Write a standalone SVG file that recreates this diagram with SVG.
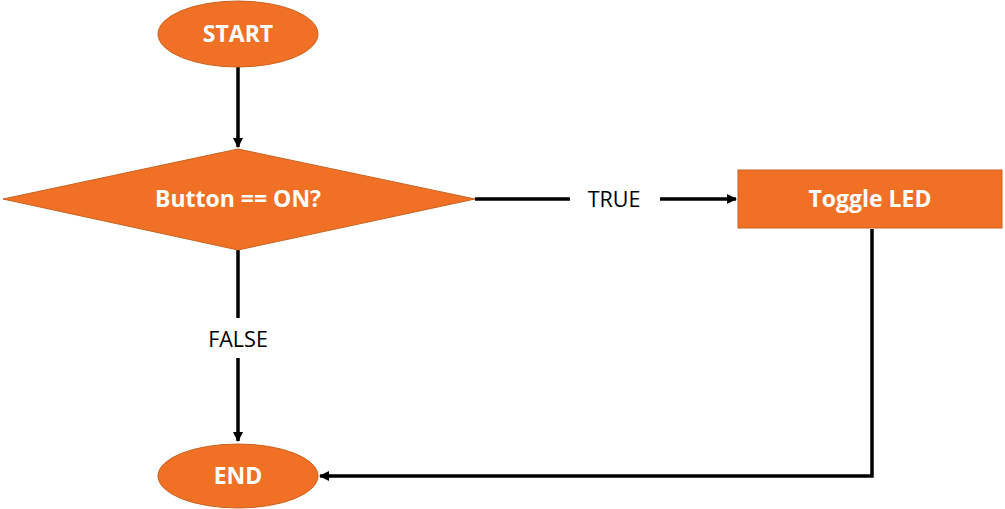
<svg xmlns="http://www.w3.org/2000/svg" width="1005" height="509" viewBox="0 0 1005 509">
<defs>
<marker id="arr" markerWidth="10" markerHeight="10" refX="9" refY="5" orient="auto" markerUnits="userSpaceOnUse" viewBox="0 0 10 10">
<path d="M0,0 L10,5 L0,10 z" fill="#000"/>
</marker>
<style>
.shape{fill:#F07126;stroke:#C9621F;stroke-width:1}
.t{font-family:"Open Sans","Noto Sans",sans-serif;font-weight:bold;font-size:23px;fill:#fff;text-anchor:middle}
.lbl{font-family:"Open Sans","Noto Sans",sans-serif;font-size:21.5px;fill:#000;text-anchor:middle}
.c{fill:none;stroke:#000;stroke-width:3.5}
</style>
</defs>
<rect width="1005" height="509" fill="#fff"/>
<g id="connectors">
<path class="c" d="M238,67 L238,147" marker-end="url(#arr)"/>
<path class="c" d="M475,199 L570,199"/>
<path class="c" d="M660,199 L736,199" marker-end="url(#arr)"/>
<path class="c" d="M238,250 L238,318"/>
<path class="c" d="M238,358 L238,441" marker-end="url(#arr)"/>
<path class="c" d="M872,229 L872,476 L320,476" marker-end="url(#arr)"/>
</g>
<g id="labels">
<text class="lbl" x="614" y="207">TRUE</text>
<text class="lbl" x="238" y="347">FALSE</text>
</g>
<g id="start">
<ellipse class="shape" cx="238" cy="34" rx="80" ry="33"/>
<text class="t" x="238" y="42">START</text>
</g>
<g id="decision">
<polygon class="shape" points="3,199 238,149 475,199 238,250"/>
<text class="t" x="238" y="207">Button == ON?</text>
</g>
<g id="toggle">
<rect class="shape" x="738" y="170" width="264" height="58"/>
<text class="t" x="870" y="207">Toggle LED</text>
</g>
<g id="end">
<ellipse class="shape" cx="238" cy="476" rx="80" ry="32"/>
<text class="t" x="238" y="484">END</text>
</g>
</svg>
